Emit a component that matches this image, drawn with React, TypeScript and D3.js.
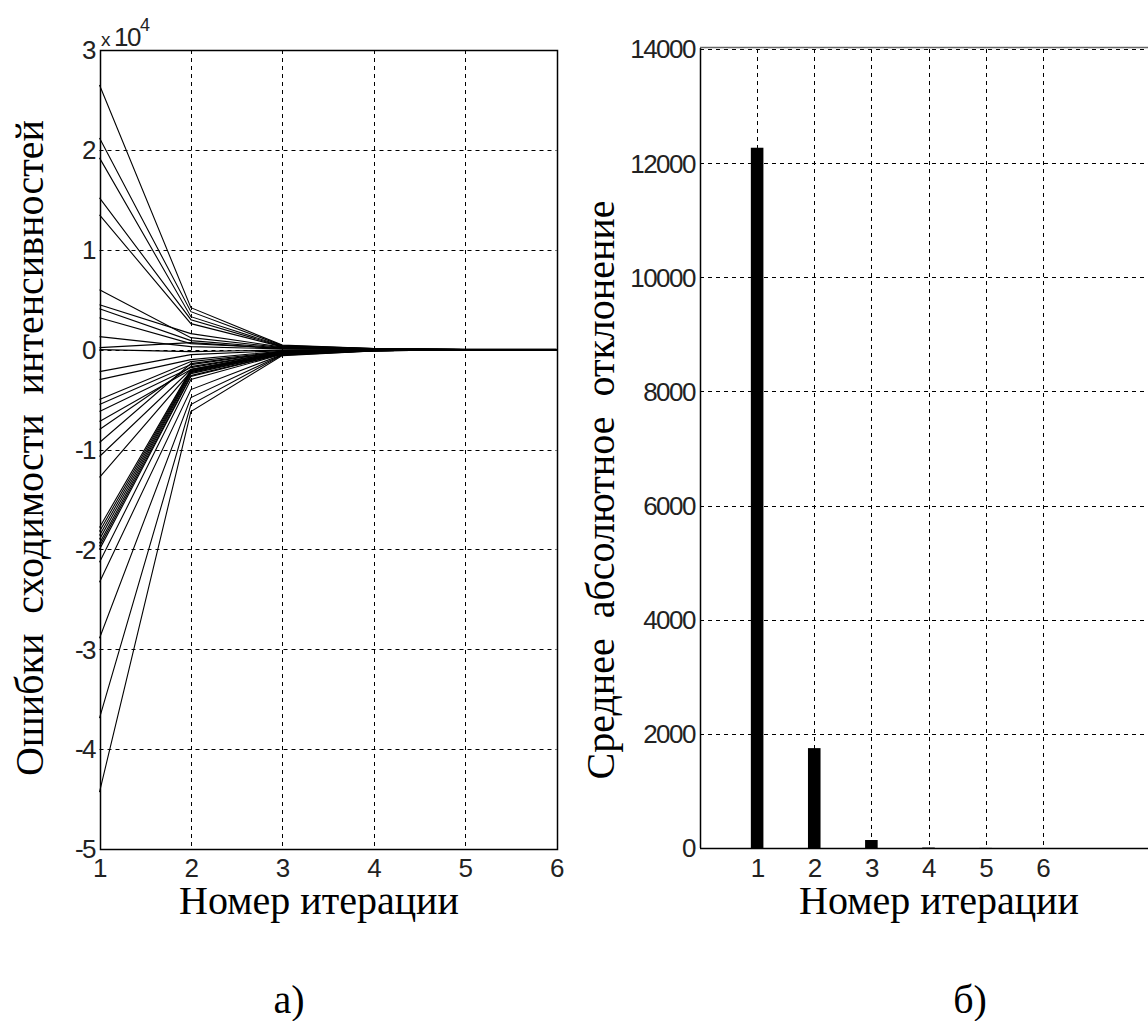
import React from 'react';
import * as d3 from 'd3';

// Iteration numbers on the horizontal axes
const iterations = [1, 2, 3, 4, 5, 6];

// Convergence errors of the intensities per iteration (units of 10^4)
const errorSeries: number[][] = [
  [2.65, 0.42, 0.045, 0.012, 0.004, 0.004],
  [2.12, 0.38, 0.04, 0.01, 0.004, 0.004],
  [1.92, 0.33, 0.035, 0.01, 0, 0],
  [1.52, 0.3, 0.03, 0.008, 0, 0],
  [1.35, 0.26, 0.028, 0.008, 0, 0],
  [0.6, 0.12, 0.02, 0.006, 0, 0],
  [0.45, 0.16, 0.025, 0.006, 0, 0],
  [0.41, 0.09, 0.015, 0.004, 0, 0],
  [0.32, 0.06, 0.012, 0.003, 0, 0],
  [0.13, 0.03, 0.008, 0.002, 0, 0],
  [0.02, 0.07, 0.01, 0.002, 0, 0],
  [0.0, -0.02, -0.005, -0.001, 0, 0],
  [-0.22, -0.05, -0.01, -0.003, 0, 0],
  [-0.3, -0.1, -0.015, -0.004, 0, 0],
  [-0.5, -0.12, -0.02, -0.005, 0, 0],
  [-0.55, -0.15, -0.022, -0.006, 0, 0],
  [-0.62, -0.18, -0.025, -0.006, 0, 0],
  [-0.72, -0.2, -0.028, -0.007, 0, 0],
  [-0.8, -0.17, -0.025, -0.006, 0, 0],
  [-0.93, -0.14, -0.02, -0.005, 0, 0],
  [-1.07, -0.2, -0.03, -0.008, 0, 0],
  [-1.28, -0.22, -0.032, -0.008, 0, 0],
  [-1.78, -0.2, -0.033, -0.008, 0, 0],
  [-1.82, -0.21, -0.035, -0.009, 0, 0],
  [-1.86, -0.22, -0.036, -0.009, 0, 0],
  [-1.9, -0.23, -0.038, -0.01, 0, 0],
  [-1.94, -0.24, -0.04, -0.01, 0, 0],
  [-1.97, -0.26, -0.042, -0.01, 0, 0],
  [-2.0, -0.27, -0.044, -0.011, 0, 0],
  [-2.13, -0.3, -0.046, -0.011, 0, 0],
  [-2.33, -0.4, -0.05, -0.012, 0, 0],
  [-2.89, -0.48, -0.052, -0.012, 0, 0],
  [-3.69, -0.55, -0.055, -0.013, 0, 0],
  [-4.43, -0.62, -0.06, -0.014, 0, 0],
];
const errorTicks = [-5, -4, -3, -2, -1, 0, 1, 2, 3];

// Mean absolute deviation per iteration
const deviationValues = [12270, 1750, 140, 8, 2, 0];
const deviationTicks = [0, 2000, 4000, 6000, 8000, 10000, 12000, 14000];

const W = 1148;
const H = 1021;
const tickFont = '"Liberation Sans", Arial, sans-serif';
const titleFont = '"Liberation Serif", "Times New Roman", serif';
const TICK_SIZE = 26;
const TICK_SPACING = -1.5;
const TITLE_SIZE = 40;
const DASH = '4,4';

const px = (v: number) => Math.round(v) + 0.5;

export default function App() {
  // left panel: error curves
  const xL = d3.scaleLinear().domain([1, 6]).range([99.5, 556.5]);
  const yL = d3.scaleLinear().domain([-5, 3]).range([849, 50]);
  // right panel: bar chart
  const xR = d3.scaleLinear().domain([0, 8]).range([700, 1157]);
  const yR = d3.scaleLinear().domain([0, 14000]).range([848, 49]);
  const barW = xR(0.22) - xR(0);

  const line = d3
    .line<number>()
    .x((_, i) => xL(iterations[i]))
    .y((d) => yL(d));

  const tickText = {
    fontFamily: tickFont,
    fontSize: TICK_SIZE,
    letterSpacing: TICK_SPACING,
    fill: '#222',
  };
  const titleText = { fontFamily: titleFont, fontSize: TITLE_SIZE, fill: '#000' };

  return (
    <svg
      width={W}
      height={H}
      style={{ position: 'absolute', left: 0, top: 0, background: '#fff' }}
    >
      <rect x={0} y={0} width={W} height={H} fill="#fff" />

      {/* ---------- left panel ---------- */}
      <g>
        {iterations.slice(1, -1).map((t) => (
          <line
            key={'lv' + t}
            x1={px(xL(t))}
            x2={px(xL(t))}
            y1={yL(3)}
            y2={yL(-5)}
            stroke="#000"
            strokeDasharray={DASH}
          />
        ))}
        {errorTicks.slice(1, -1).map((t) => (
          <line
            key={'lh' + t}
            x1={xL(1)}
            x2={xL(6)}
            y1={px(yL(t))}
            y2={px(yL(t))}
            stroke="#000"
            strokeDasharray={DASH}
          />
        ))}
        {errorSeries.map((s, i) => (
          <path key={'s' + i} d={line(s) || ''} fill="none" stroke="#000" strokeWidth={1.1} />
        ))}
        <rect
          x={px(xL(1))}
          y={px(yL(3))}
          width={Math.round(xL(6)) - Math.round(xL(1))}
          height={Math.round(yL(-5)) - Math.round(yL(3))}
          fill="none"
          stroke="#000"
          strokeWidth={1.5}
        />
        {errorTicks.map((t) => (
          <text key={'ly' + t} x={95} y={yL(t)} dy="0.36em" textAnchor="end" {...tickText}>
            {t}
          </text>
        ))}
        {iterations.map((t) => (
          <text key={'lx' + t} x={xL(t)} y={877} textAnchor="middle" {...tickText}>
            {t}
          </text>
        ))}
        <text x={101} y={46} {...tickText}>
          <tspan fontSize={19}>x</tspan>
          <tspan dx={5}>10</tspan>
          <tspan fontSize={18} dy={-15}>4</tspan>
        </text>
        <text
          transform="translate(43,448) rotate(-90)"
          textAnchor="middle"
          {...titleText}
          style={{ whiteSpace: 'pre' }}
        >
          {'Ошибки  сходимости  интенсивностей'}
        </text>
        <text x={319} y={914} textAnchor="middle" {...titleText}>
          Номер итерации
        </text>
        <text x={289} y={1013} textAnchor="middle" {...titleText}>
          а)
        </text>
      </g>

      {/* ---------- right panel ---------- */}
      <g>
        {iterations.map((t) => (
          <line
            key={'rv' + t}
            x1={px(xR(t))}
            x2={px(xR(t))}
            y1={yR(14000)}
            y2={yR(0)}
            stroke="#000"
            strokeDasharray={DASH}
          />
        ))}
        {deviationTicks.slice(1).map((t) => (
          <line
            key={'rh' + t}
            x1={xR(0)}
            x2={W}
            y1={px(yR(t))}
            y2={px(yR(t))}
            stroke="#000"
            strokeDasharray={DASH}
          />
        ))}
        {deviationValues.map((v, i) => (
          <rect
            key={'b' + i}
            x={xR(iterations[i]) - barW / 2}
            y={yR(v)}
            width={barW}
            height={yR(0) - yR(v)}
            fill="#000"
          />
        ))}
        <line x1={px(xR(0))} x2={px(xR(0))} y1={yR(14000) - 1} y2={yR(0)} stroke="#000" strokeWidth={1.5} />
        <line x1={xR(0)} x2={W} y1={px(yR(0))} y2={px(yR(0))} stroke="#000" strokeWidth={1.5} />
        <line x1={xR(0)} x2={W} y1={px(yR(14000)) - 2} y2={px(yR(14000)) - 2} stroke="#666" strokeWidth={1.5} />
        {deviationTicks.map((t) => (
          <text key={'ry' + t} x={695} y={yR(t)} dy="0.36em" textAnchor="end" {...tickText}>
            {t}
          </text>
        ))}
        {iterations.map((t) => (
          <text key={'rx' + t} x={xR(t)} y={877} textAnchor="middle" {...tickText}>
            {t}
          </text>
        ))}
        <text
          transform="translate(614,490) rotate(-90)"
          textAnchor="middle"
          {...titleText}
          style={{ whiteSpace: 'pre' }}
        >
          {'Среднее  абсолютное  отклонение'}
        </text>
        <text x={939} y={914} textAnchor="middle" {...titleText}>
          Номер итерации
        </text>
        <text x={970} y={1013} textAnchor="middle" {...titleText}>
          б)
        </text>
      </g>
    </svg>
  );
}
